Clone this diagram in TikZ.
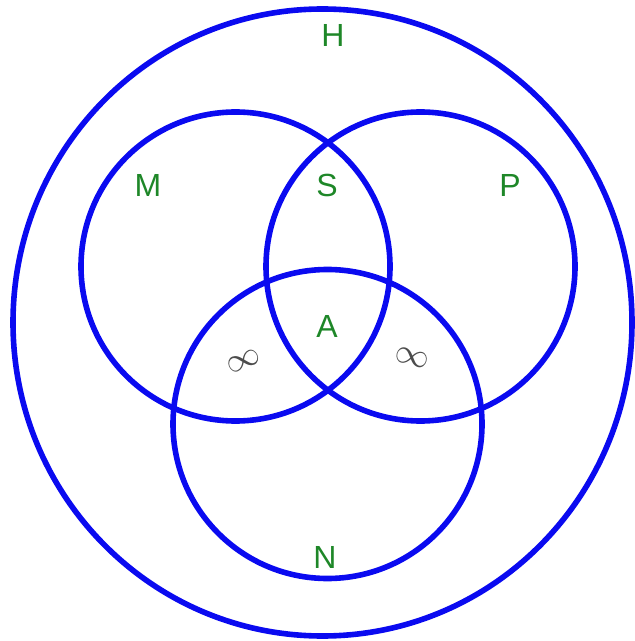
\documentclass[tikz,border=0pt]{standalone}
\usepackage{fontspec}
\setmainfont{Liberation Sans}
\definecolor{ringblue}{RGB}{10,10,240}
\definecolor{labgreen}{RGB}{30,135,40}
\begin{document}
\begin{tikzpicture}[x=0.5pt, y=-0.5pt, line width=2.8pt,
  ring/.style={draw=ringblue},
  lab/.style={text=labgreen, font=\fontsize{16}{19}\selectfont, inner sep=0pt},
  inf/.style={text=black!70, font=\fontsize{17}{20}\selectfont, inner sep=0pt}]
  \useasboundingbox (0,0) rectangle (634,641);
  \draw[ring] (322.5,322.5) ellipse [x radius=309.5, y radius=313.5];
  \draw[ring] (235.5,266.5) circle (154.5);
  \draw[ring] (420.5,266.5) circle (154.5);
  \draw[ring] (327.5,424.0) circle (154.5);
  \node[lab] (h) at (333,35) {H};
  \node[lab] (m) at (148,185) {M};
  \node[lab] (s) at (327,185) {S};
  \node[lab] (p) at (510,185) {P};
  \node[lab] (a) at (327,326) {A};
  \node[lab] (n) at (325,557) {N};
  \node[inf, rotate=22] (infl) at (244,361) {$\infty$};
  \node[inf, rotate=-15] (infr) at (412,358) {$\infty$};
\end{tikzpicture}
\end{document}
